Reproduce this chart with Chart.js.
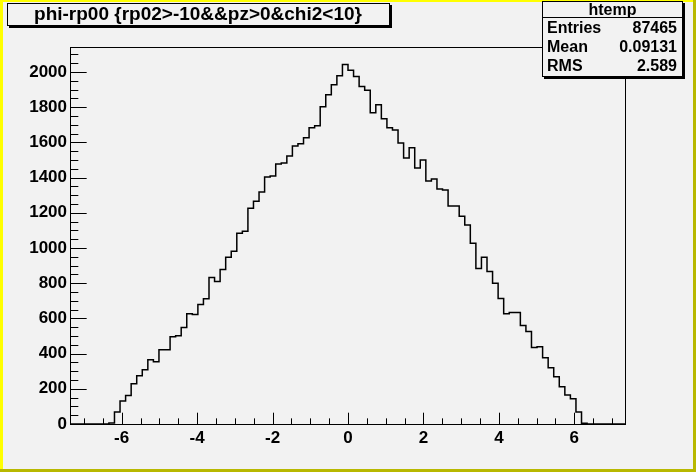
<!DOCTYPE html>
<html>
<head>
<meta charset="utf-8">
<script src="https://cdn.jsdelivr.net/npm/chart.js@4.4.0/dist/chart.umd.min.js"></script>
<style>
  html, body { margin: 0; padding: 0; background: #f2f2f2; }
  canvas { display: block; }
</style>
</head>
<body>
<canvas id="histo" width="696" height="472"></canvas>
<script>
// htemp : phi-rp00, 100 bins between xMin and xMax
const xMin = -7.37;
const xMax = 7.37;
const yMax = 2142;
const counts = [
  0, 0, 0, 0, 0, 0, 0, 6, 68, 131,
  162, 228, 274, 308, 365, 354, 422, 422, 496, 502,
  548, 627, 622, 679, 712, 833, 810, 878, 947, 981,
  1084, 1095, 1226, 1266, 1318, 1403, 1409, 1477, 1483, 1523,
  1580, 1592, 1626, 1683, 1694, 1803, 1871, 1928, 1979, 2042,
  2010, 1974, 1917, 1896, 1768, 1814, 1734, 1683, 1671, 1597,
  1512, 1569, 1455, 1500, 1380, 1392, 1335, 1329, 1238, 1238,
  1181, 1130, 1027, 884, 947, 867, 799, 713, 627, 633,
  633, 559, 525, 434, 439, 376, 319, 268, 211, 165,
  143, 68, 4, 0, 0, 0, 0, 0, 0, 0
];
const xTicks = [-6, -4, -2, 0, 2, 4, 6];
const yTicks = [0, 200, 400, 600, 800, 1000, 1200, 1400, 1600, 1800, 2000];
const xMinorStep = 0.5;
const yMinorStep = 50;

const titleText = 'phi-rp00 {rp02>-10&&pz>0&chi2<10}';
const statsName = 'htemp';
const statsLabels = ['Entries', 'Mean', 'RMS'];
const statsValues = ['87465', '0.09131', '2.589'];

const FONT = '"Liberation Sans", Arial, Helvetica, sans-serif';
const BG = '#f2f2f2';

// bin edges -> step points
const nBins = counts.length;
const binW = (xMax - xMin) / nBins;
const points = [];
for (let k = 0; k <= nBins; k++) {
  points.push({ x: xMin + k * binW, y: counts[Math.min(k, nBins - 1)] });
}

function box(c, x, y, w, h) {
  // pave with shadow, ROOT style
  c.fillStyle = '#000';
  c.fillRect(x + 2, y + 2, w, h);
  c.fillStyle = BG;
  c.fillRect(x, y, w, h);
  c.strokeStyle = '#000';
  c.lineWidth = 1;
  c.strokeRect(x + 0.5, y + 0.5, w - 1, h - 1);
}

const rootPad = {
  id: 'rootPad',
  beforeDraw(chart) {
    const c = chart.ctx, W = chart.width, H = chart.height;
    c.save();
    c.fillStyle = BG;
    c.fillRect(0, 0, W, H);
    c.fillStyle = '#ffff00';
    c.fillRect(0, 0, W, 2);
    c.fillRect(0, 0, 3, H);
    c.fillStyle = '#b8b800';
    c.fillRect(W - 3, 0, 3, H);
    c.fillRect(0, H - 3, W, 3);
    c.restore();
  },
  afterDraw(chart) {
    const c = chart.ctx;
    const a = chart.chartArea;
    const xs = chart.scales.x, ys = chart.scales.y;
    c.save();
    c.strokeStyle = '#000';
    c.lineWidth = 1;
    // frame
    c.strokeRect(Math.round(a.left) + 0.5, Math.round(a.top) + 0.5,
      Math.round(a.right - a.left) - 1, Math.round(a.bottom - a.top));
    // ticks pointing inside the frame
    const yMajor = 0.03 * (a.right - a.left), xMajor = 0.03 * (a.bottom - a.top);
    c.beginPath();
    for (let v = 0; v <= yMax; v += yMinorStep) {
      const py = Math.round(ys.getPixelForValue(v)) + 0.5;
      const len = v % 200 === 0 ? yMajor : yMajor / 2;
      c.moveTo(a.left, py);
      c.lineTo(a.left + len, py);
    }
    for (let v = -7; v <= 7.001; v += xMinorStep) {
      const px = Math.round(xs.getPixelForValue(v)) + 0.5;
      const len = Math.abs(v % 2) < 1e-6 ? xMajor : xMajor / 2;
      c.moveTo(px, a.bottom);
      c.lineTo(px, a.bottom - len);
    }
    c.stroke();

    // title pave
    box(c, 7, 3, 383, 23);
    c.fillStyle = '#000';
    c.font = 'bold 19px ' + FONT;
    c.textAlign = 'center';
    c.textBaseline = 'middle';
    c.fillText(titleText, 198, 15);

    // stats pave
    const sx = 542, sy = 1, sw = 141, sh = 76;
    box(c, sx, sy, sw, sh);
    c.beginPath();
    c.moveTo(sx, sy + 16.5);
    c.lineTo(sx + sw, sy + 16.5);
    c.stroke();
    c.fillStyle = '#000';
    c.font = 'bold 16px ' + FONT;
    c.textAlign = 'center';
    c.fillText(statsName, sx + sw / 2, sy + 9.5);
    const rowY = [29, 48, 67];
    statsLabels.forEach((lab, i) => {
      c.textAlign = 'left';
      c.fillText(lab, sx + 5, rowY[i]);
      c.textAlign = 'right';
      c.fillText(statsValues[i], sx + sw - 6, rowY[i]);
    });
    c.restore();
  }
};

const tickFont = { family: FONT, size: 17, weight: 'bold' };

new Chart(document.getElementById('histo'), {
  type: 'line',
  data: {
    datasets: [{
      label: 'htemp',
      data: points,
      stepped: true,
      borderColor: '#000',
      borderWidth: 1.5,
      pointRadius: 0,
      fill: false,
      tension: 0
    }]
  },
  options: {
    responsive: false,
    animation: false,
    events: [],
    layout: { padding: { left: 0, right: 70, top: 47, bottom: 0 } },
    plugins: {
      legend: { display: false },
      tooltip: { enabled: false },
      title: { display: false }
    },
    scales: {
      x: {
        type: 'linear',
        min: xMin,
        max: xMax,
        grid: { display: false, drawTicks: false },
        border: { display: false },
        afterBuildTicks: s => { s.ticks = xTicks.map(v => ({ value: v })); },
        afterFit: s => { s.height = 48; },
        ticks: {
          color: '#000',
          font: tickFont,
          padding: 4,
          maxRotation: 0,
          autoSkip: false,
          callback: v => String(v)
        }
      },
      y: {
        type: 'linear',
        min: 0,
        max: yMax,
        grid: { display: false, drawTicks: false },
        border: { display: false },
        afterBuildTicks: s => { s.ticks = yTicks.map(v => ({ value: v })); },
        afterFit: s => { s.width = 70; },
        ticks: {
          color: '#000',
          font: tickFont,
          padding: 3,
          autoSkip: false,
          callback: v => String(v)
        }
      }
    }
  },
  plugins: [rootPad]
});
</script>
</body>
</html>
